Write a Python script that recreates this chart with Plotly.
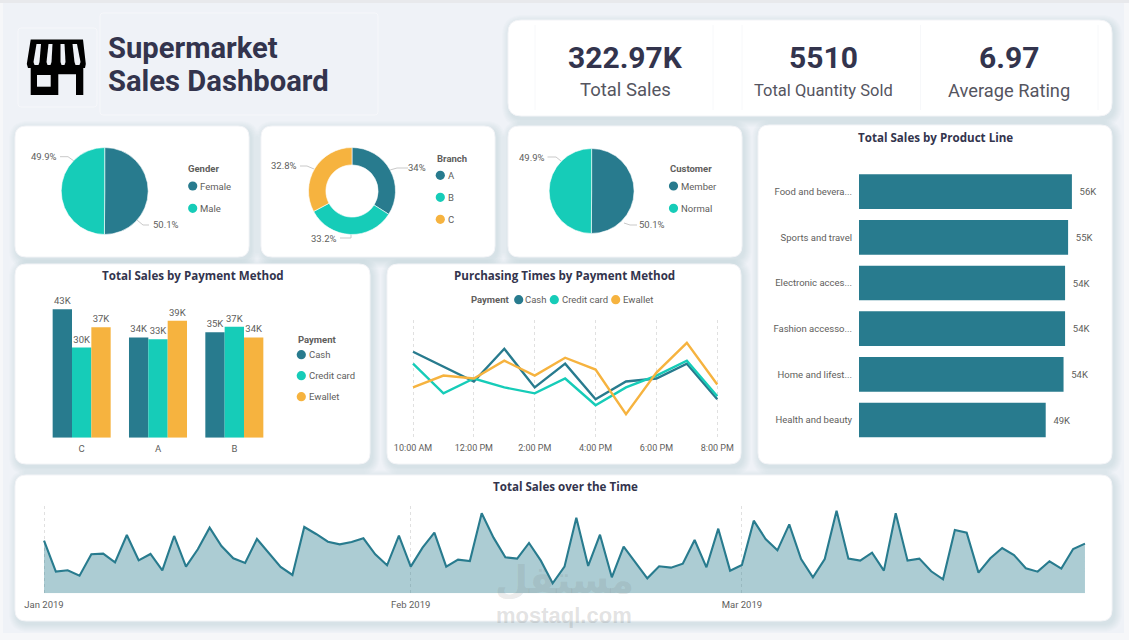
import pandas as pd
import plotly.graph_objects as go

W, H = 1129, 640
TEAL, MINT, AMBER = "#287B8E", "#16CCB8", "#F6B33F"
INK, GREY = "#33344D", "#605E5C"
BODY = "Roboto, 'Noto Sans', sans-serif"
HEAD = "'Open Sans', sans-serif"

# Donut and pie shares
gender_names = ["Female", "Male"]
gender_share = [50.1, 49.9]
branch_names = ["A", "B", "C"]
branch_share = [34, 33.2, 32.8]
customer_names = ["Member", "Normal"]
customer_share = [50.1, 49.9]

# Sales by branch and payment, in thousands
branches = ["C", "A", "B"]
payments = ["Cash", "Credit card", "Ewallet"]
cash_sales = [43.0, 33.6, 35.3]
credit_sales = [30.2, 33.0, 37.2]
ewallet_sales = [37.0, 39.2, 33.6]

# Purchases per hour of day
hours = ["10:00 AM", "11:00 AM", "12:00 PM", "1:00 PM", "2:00 PM", "3:00 PM",
         "4:00 PM", "5:00 PM", "6:00 PM", "7:00 PM", "8:00 PM"]
hour_ticks = ["10:00 AM", "12:00 PM", "2:00 PM", "4:00 PM", "6:00 PM", "8:00 PM"]
cash_hours = [39, 34, 29, 40, 27, 35, 23, 29, 30, 35, 23]
credit_hours = [35, 25, 30, 27, 25, 30, 21, 27, 31, 36, 24]
ewallet_hours = [27, 31, 30, 36, 31, 37, 33, 18, 32, 42, 28]

# Sales by product line, in thousands
products = ["Food and bevera...", "Sports and travel", "Electronic acces...",
            "Fashion accesso...", "Home and lifest...", "Health and beauty"]
product_sales = [56.1, 55.1, 54.3, 54.3, 53.9, 49.2]

# Daily sales, 1 Jan to 30 Mar 2019
daily_sales = [4740, 1950, 2070, 1590, 3510, 3570, 2790, 5250, 2970, 3540, 2070,
               5160, 2400, 3960, 5910, 4260, 3150, 2730, 4890, 3600, 2370, 1650,
               5970, 5340, 4650, 4410, 4620, 4950, 3510, 2520, 5190,
               2400, 4110, 5460, 2400, 3030, 2910, 7200, 5010, 3240, 3120, 4530,
               2940, 900, 2400, 6810, 2460, 5280, 1440, 4200, 2760, 1350, 2430,
               2310, 2670, 4800, 2340, 5820,
               2040, 2550, 6540, 4890, 3870, 6210, 3090, 1440, 3090, 7440, 3120,
               2940, 3660, 2040, 7200, 2940, 3120, 1980, 1260, 5700, 5460, 1860,
               3150, 4080, 3450, 2250, 1950, 2880, 2220, 3990, 4470]
days = pd.date_range("2019-01-01", periods=len(daily_sales)).strftime("%Y-%m-%d").tolist()
month_ticks = ["2019-01-01", "2019-02-01", "2019-03-01"]
month_names = ["Jan 2019", "Feb 2019", "Mar 2019"]


def px(x):
    return x / W


def py(y):
    return 1 - y / H


def dom_x(a, b):
    return [px(a), px(b)]


def dom_y(top, bottom):
    return [py(bottom), py(top)]


shapes, notes = [], []


def rrect(x0, y0, x1, y1, r):
    p = f"M{px(x0+r)},{py(y0)} L{px(x1-r)},{py(y0)} Q{px(x1)},{py(y0)} {px(x1)},{py(y0+r)} "
    p += f"L{px(x1)},{py(y1-r)} Q{px(x1)},{py(y1)} {px(x1-r)},{py(y1)} "
    p += f"L{px(x0+r)},{py(y1)} Q{px(x0)},{py(y1)} {px(x0)},{py(y1-r)} "
    p += f"L{px(x0)},{py(y0+r)} Q{px(x0)},{py(y0)} {px(x0+r)},{py(y0)} Z"
    return p


def add_path(path, fill=None, line=None, width=0):
    shapes.append(dict(type="path", xref="paper", yref="paper", path=path, layer="below",
                       fillcolor=fill or "rgba(0,0,0,0)",
                       line=dict(color=line or "rgba(0,0,0,0)", width=width)))


def poly(points, close=True):
    s = "M" + " L".join(f"{px(x)},{py(y)}" for x, y in points)
    return s + (" Z" if close else "")


def card(x0, y0, x1, y1, r=11):
    for i in range(8, 0, -1):
        add_path(rrect(x0 - i + 2, y0 - i + 3, x1 + i + 2, y1 + i + 3, r + i), "rgba(95,100,115,0.015)")
    add_path(rrect(x0, y0, x1, y1, r), "#FFFFFF", "#F3F4F7", 1)


def label(x, y, text, size=9.5, color=GREY, font=BODY, anchor="left", bold=False):
    if bold:
        text = f"<b>{text}</b>"
    notes.append(dict(xref="paper", yref="paper", x=px(x), y=py(y), text=text, showarrow=False,
                      xanchor=anchor, yanchor="middle", borderpad=0,
                      font=dict(size=size, color=color, family=font)))


def dot(x, y, color, r=4.6):
    shapes.append(dict(type="circle", xref="paper", yref="paper", layer="below", fillcolor=color,
                       x0=px(x - r), x1=px(x + r), y0=py(y + r), y1=py(y - r), line=dict(width=0)))


def leader(points):
    add_path(poly(points, close=False), None, "#C9C9C9", 1)


# Page backdrop
shapes.append(dict(type="rect", xref="paper", yref="paper", x0=0, x1=1, y0=0, y1=1, layer="below",
                   fillcolor="#F6F7F9", line=dict(width=0)))
shapes.append(dict(type="rect", xref="paper", yref="paper", x0=0, x1=1, y0=py(3), y1=1, layer="below",
                   fillcolor="#E8E9EC", line=dict(width=0)))
shapes.append(dict(type="rect", xref="paper", yref="paper", x0=px(3), x1=px(1124), y0=py(633), y1=py(3),
                   layer="below", fillcolor="#EFF2F7", line=dict(width=0)))

# Header boxes and shop icon
add_path(rrect(18, 28, 97, 107, 3), None, "#F6F7FA", 1)
add_path(rrect(100, 13, 378, 115, 3), None, "#F6F7FA", 1)
add_path(poly([(30.7, 39.5), (83, 39.5), (85.8, 64), (85, 68), (83.3, 68), (83.3, 95), (76, 95), (76, 74.3),
               (58.3, 74.3), (58.3, 95), (30.7, 95), (30.7, 68), (28, 68), (26.8, 64)]), "#000000")
add_path(poly([(37, 75), (50.7, 75), (50.7, 86.7), (37, 86.7)]), "#EFF2F7")
for left, right, low_l, low_r in [(36.5, 41, 33.5, 39.5), (48.5, 52.5, 46.5, 51.5),
                                  (60.5, 64.5, 60.5, 65.5), (72.5, 77, 74.5, 80.5)]:
    add_path(poly([(left, 44), (right, 44), (low_r, 62), (low_r - 1, 65), (low_l + 1, 65), (low_l, 62)]), "#EFF2F7")

# Panels
card(508, 20, 1112, 116, 13)
card(15, 126, 249, 257)
card(261, 126, 495, 257)
card(508, 126, 742, 257)
card(758, 125, 1112, 464)
card(15, 264, 370, 464)
card(387, 264, 741, 464)
card(15, 475, 1112, 621)
for x in (535, 713, 742, 920.5, 1098):
    add_path(poly([(x, 25), (x, 110)], close=False), None, "#F7F8FA", 1)

# Header text
label(106.5, 48, "Supermarket", 29.2, INK, BODY, bold=True)
label(106.5, 81, "Sales Dashboard", 29.2, INK, BODY, bold=True)
for cx, big, small, small_size in [(625, "322.97K", "Total Sales", 18.5),
                                   (823.7, "5510", "Total Quantity Sold", 16.5),
                                   (1009, "6.97", "Average Rating", 18.3)]:
    label(cx, 58, big, 30, INK, BODY, "center", True)
    label(cx, 90, small, small_size, "#55555F", BODY, "center")

# Panel titles
label(935.6, 138, "Total Sales by Product Line", 11.6, INK, HEAD, "center", True)
label(193, 275.7, "Total Sales by Payment Method", 11.6, INK, HEAD, "center", True)
label(564.5, 275.7, "Purchasing Times by Payment Method", 11.6, INK, HEAD, "center", True)
label(565.7, 486, "Total Sales over the Time", 11.6, INK, HEAD, "center", True)

fig = go.Figure()


def add_pie(names, share, cx, cy, r, colors, hole=0):
    fig.add_trace(go.Pie(labels=names, values=share, sort=False, direction="clockwise", rotation=0,
                         hole=hole, textinfo="none", showlegend=False, automargin=False,
                         marker=dict(colors=colors, line=dict(color="#FFFFFF", width=0.6)),
                         domain=dict(x=dom_x(cx - r, cx + r), y=dom_y(cy - r, cy + r))))


add_pie(gender_names, gender_share, 104.7, 191, 43.5, [TEAL, MINT])
add_pie(branch_names, branch_share, 352, 191, 43.5, [TEAL, MINT, AMBER], 0.6)
add_pie(customer_names, customer_share, 591.6, 191, 42.5, [TEAL, MINT])

# Slice callouts
label(165.7, 224.3, f"{gender_share[0]:g}%", anchor="center")
label(44.3, 156.7, f"{gender_share[1]:g}%", anchor="center")
leader([(137, 220), (143, 225), (149, 225)])
leader([(60, 156.7), (68, 156.7), (74, 161)])
label(417.3, 167.3, f"{branch_share[0]:g}%", anchor="center")
label(323.7, 238.7, f"{branch_share[1]:g}%", anchor="center")
label(284, 165.7, f"{branch_share[2]:g}%", anchor="center")
leader([(390, 170), (397, 168), (408, 168)])
leader([(351, 234), (351, 238), (340, 238)])
leader([(300, 166), (307, 166), (314, 169)])
label(651.8, 224.5, f"{customer_share[0]:g}%", anchor="center")
label(532, 157, f"{customer_share[1]:g}%", anchor="center")
leader([(624, 223), (630, 225), (637, 225)])
leader([(547.5, 157), (556, 157), (561, 161)])

# Legends
label(187.3, 168.3, "Gender", bold=True)
for name, y, c in zip(gender_names, (186, 208.3), (TEAL, MINT)):
    dot(192.7, y, c)
    label(199.3, y, name)
label(435.7, 158.3, "Branch", bold=True)
for name, y, c in zip(branch_names, (175.3, 197.3, 219.3), (TEAL, MINT, AMBER)):
    dot(440.3, y, c)
    label(447, y, name)
label(668.7, 168.3, "Customer", bold=True)
for name, y, c in zip(customer_names, (186, 208.3), (TEAL, MINT)):
    dot(673.5, y, c)
    label(680.3, y, name)
label(296.7, 339, "Payment", bold=True)
for name, y, c in zip(payments, (354.7, 375.7, 396.7), (TEAL, MINT, AMBER)):
    dot(301.3, y, c)
    label(308, y, name)
label(470, 299.7, "Payment", bold=True)
for name, cx, tx, c in zip(payments, (518.7, 554.3, 615.7), (524.3, 560.7, 622.3), (TEAL, MINT, AMBER)):
    dot(cx, 299.7, c)
    label(tx, 299.7, name)

tick_font = dict(size=9.5, color=GREY, family=BODY)
hour_font = dict(size=9, color=GREY, family=BODY)

# Grouped bars
for name, vals, c in zip(payments, (cash_sales, credit_sales, ewallet_sales), (TEAL, MINT, AMBER)):
    fig.add_trace(go.Bar(x=branches, y=vals, name=name, marker=dict(color=c, line=dict(width=0)),
                         text=[f"{v:.0f}K" for v in vals], textposition="outside", cliponaxis=False,
                         textfont=tick_font, xaxis="x", yaxis="y", showlegend=False))

# Hourly lines
for name, vals, c in zip(payments, (cash_hours, credit_hours, ewallet_hours), (TEAL, MINT, AMBER)):
    fig.add_trace(go.Scatter(x=hours, y=vals, name=name, mode="lines", line=dict(color=c, width=2.4),
                             xaxis="x2", yaxis="y2", showlegend=False, cliponaxis=False))

# Product line bars
fig.add_trace(go.Bar(x=product_sales, y=products, orientation="h", marker=dict(color=TEAL, line=dict(width=0)),
                     text=[f"\u00a0\u00a0{v:.0f}K" for v in product_sales], textposition="outside",
                     cliponaxis=False, textfont=tick_font, xaxis="x3", yaxis="y3", showlegend=False))

# Daily sales area
fig.add_trace(go.Scatter(x=days, y=daily_sales, mode="lines", fill="tozeroy",
                         fillcolor="rgba(40,123,142,0.39)", line=dict(color=TEAL, width=2.1),
                         xaxis="x4", yaxis="y4", showlegend=False))

# Site mark across the lower edge
notes.append(dict(xref="paper", yref="paper", x=px(564), y=py(615), xanchor="center", yanchor="middle",
                  text="<b>mostaql.com</b>", showarrow=False,
                  font=dict(size=22, color="rgba(110,110,110,0.2)", family="'Liberation Sans', sans-serif")))
notes.append(dict(xref="paper", yref="paper", x=px(564), y=py(580), xanchor="center", yanchor="middle",
                  text="<b>مستقل</b>", showarrow=False,
                  font=dict(size=38, color="rgba(110,110,110,0.15)", family="'DejaVu Sans', sans-serif")))

hidden_y = dict(visible=False, fixedrange=True, automargin=False)
grid_style = dict(showgrid=True, gridcolor="#E0E0E0", griddash="dot", gridwidth=1)
fig.update_layout(
    width=W, height=H, margin=dict(l=0, r=0, t=0, b=0, pad=0), autosize=False,
    paper_bgcolor="rgba(0,0,0,0)", plot_bgcolor="rgba(0,0,0,0)",
    barmode="group", bargap=0.24, bargroupgap=0,
    shapes=shapes, annotations=notes, font=dict(family=BODY),
    xaxis=dict(domain=dom_x(43.5, 272.5), anchor="y", type="category", categoryorder="array",
               categoryarray=branches, range=[-0.5, 2.5], showgrid=False, showline=False, zeroline=False,
               ticks="", tickfont=tick_font, ticklabelstandoff=4, automargin=False),
    yaxis=dict(domain=dom_y(297.4, 437.7), anchor="x", range=[0, 47], **hidden_y),
    xaxis2=dict(domain=dom_x(411.5, 718.8), anchor="y2", type="category", categoryorder="array",
                categoryarray=hours, range=[-0.05, 10.05], tickmode="array", tickvals=hour_ticks,
                ticktext=hour_ticks, showline=False, zeroline=False, ticks="", tickfont=hour_font,
                ticklabelstandoff=4, automargin=False, **grid_style),
    yaxis2=dict(domain=dom_y(320, 436.7), anchor="x2", range=[10.4, 49.7], **hidden_y),
    xaxis3=dict(domain=dom_x(859, 1086.7), anchor="y3", range=[0, 60], visible=False, automargin=False),
    yaxis3=dict(domain=dom_y(168.85, 442.85), anchor="x3", type="category", categoryorder="array",
                categoryarray=products[::-1], showgrid=False, showline=False, zeroline=False, ticks="",
                tickfont=tick_font, ticklabelstandoff=6, automargin=False),
    xaxis4=dict(domain=dom_x(42.8, 1086.2), anchor="y4", type="date",
                range=["2018-12-31 21:30", "2019-03-30 02:30"], tickmode="array", tickvals=month_ticks,
                ticktext=month_names, showline=False, zeroline=False, ticks="", tickfont=tick_font,
                ticklabelstandoff=4, automargin=False, **grid_style),
    yaxis4=dict(domain=dom_y(506, 593.3), anchor="x4", range=[0, 7860], **hidden_y),
)

fig.write_html("out.html", config={"displayModeBar": False})
